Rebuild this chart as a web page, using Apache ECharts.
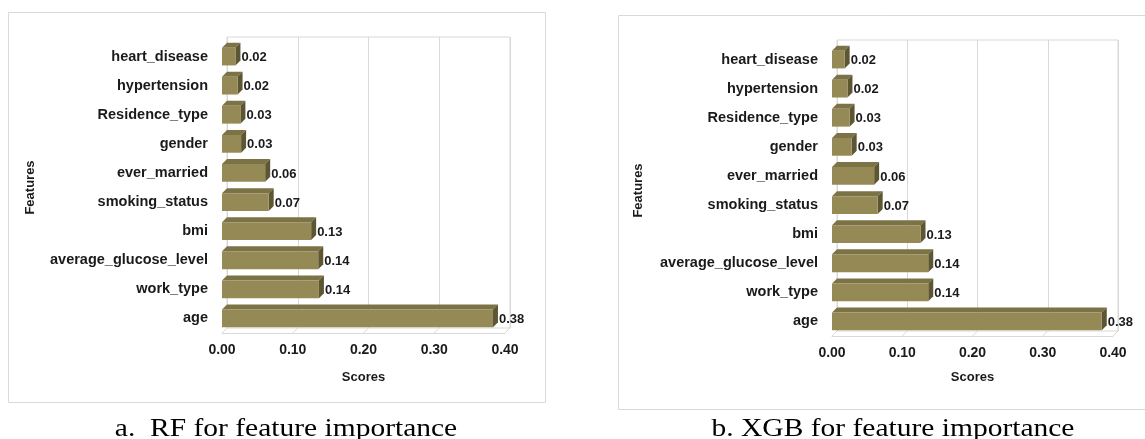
<!DOCTYPE html>
<html><head><meta charset="utf-8">
<script src="https://cdn.jsdelivr.net/npm/echarts@6/dist/echarts.min.js"></script>
<style>html,body{margin:0;padding:0;background:#fff}#c{width:1145px;height:439px}</style>
</head><body><div id="c"></div>
<script>
const features = ['heart_disease','hypertension','Residence_type','gender','ever_married','smoking_status','bmi','average_glucose_level','work_type','age'];
const rfScores = [0.019,0.022,0.026,0.027,0.061,0.066,0.126,0.136,0.137,0.383];
const xgbScores = [0.018,0.022,0.025,0.028,0.060,0.065,0.126,0.137,0.137,0.384];
const xTicks = [0, 0.1, 0.2, 0.3, 0.4];
const captions = ['a.  RF for feature importance', 'b. XGB for feature importance'];
const axisTitleX = 'Scores', axisTitleY = 'Features';

const FONT = '"Liberation Sans", Arial, sans-serif';
const D = 5; // 3D depth in px
const C_FRONT = '#958a55', C_TOP = '#7b7246', C_SIDE = '#5d5633', GRIDC = '#d9d9d9';

function barItem(params, api) {
  const val = api.value(0), idx = api.value(1);
  const s = api.coord([0, idx]), e = api.coord([val, idx]);
  const bw = api.size([0, 1])[1] * 0.61;
  const x0 = s[0], x1 = e[0], yc = s[1], yt = yc - bw / 2, yb = yc + bw / 2;
  return { type: 'group', children: [
    { type: 'polygon', shape: { points: [[x0, yt], [x0 + D, yt - D], [x1 + D, yt - D], [x1, yt]] }, style: { fill: C_TOP } },
    { type: 'polygon', shape: { points: [[x1, yt], [x1 + D, yt - D], [x1 + D, yb - D], [x1, yb]] }, style: { fill: C_SIDE } },
    { type: 'rect', shape: { x: x0, y: yt, width: x1 - x0, height: bw }, style: { fill: C_FRONT } },
    { type: 'text', style: { text: val.toFixed(2), x: x1 + D + 1, y: yc + 1, verticalAlign: 'middle', align: 'left', font: 'bold 13px ' + FONT, fill: '#1a1a1a' } }
  ]};
}
function floorItem(params, api) {
  const v = api.value(0);
  const cs = params.coordSys;
  const bottom = cs.y + cs.height;
  const p = api.coord([v, 0]);
  return { type: 'line', shape: { x1: p[0], y1: bottom, x2: p[0] + D, y2: bottom - D }, style: { stroke: GRIDC, lineWidth: 1 } };
}

const panels = [
  { left: 222, top: 42, width: 283, height: 291, scores: rfScores, nameGap: 38, featX: 30, box: [8, 12, 537, 390], cap: [286, 429] },
  { left: 832, top: 45, width: 281, height: 291, scores: xgbScores, nameGap: 35, featX: 638, box: [618, 15, 540, 394], cap: [893, 429] }
];

const grid = [], xAxis = [], yAxis = [], series = [], graphic = [];
panels.forEach((p, k) => {
  const g = grid.length;
  // back wall
  grid.push({ left: p.left + D, top: p.top - D, width: p.width, height: p.height, show: true, borderColor: GRIDC, borderWidth: 1, backgroundColor: 'transparent' });
  xAxis.push({ gridIndex: g, type: 'value', min: 0, max: 0.4, interval: 0.1, axisLine: { show: false }, axisTick: { show: false }, axisLabel: { show: false }, splitLine: { lineStyle: { color: GRIDC } } });
  yAxis.push({ gridIndex: g, type: 'category', data: features, inverse: true, show: false });
  // front
  grid.push({ left: p.left, top: p.top, width: p.width, height: p.height });
  xAxis.push({ gridIndex: g + 1, type: 'value', min: 0, max: 0.4, interval: 0.1,
    axisLine: { show: true, lineStyle: { color: GRIDC } }, axisTick: { show: false }, splitLine: { show: false },
    axisLabel: { margin: 10, fontFamily: FONT, fontWeight: 'bold', fontSize: 14, color: '#1a1a1a', formatter: v => v.toFixed(2) },
    name: axisTitleX, nameLocation: 'middle', nameGap: p.nameGap, nameTextStyle: { fontFamily: FONT, fontWeight: 'bold', fontSize: 13, color: '#1a1a1a' } });
  yAxis.push({ gridIndex: g + 1, type: 'category', data: features, inverse: true,
    axisLine: { show: false }, axisTick: { show: false },
    axisLabel: { margin: 14, fontFamily: FONT, fontWeight: 'bold', fontSize: 14.5, color: '#1a1a1a' },
    name: axisTitleY, nameLocation: 'middle', nameRotate: 90, nameGap: p.left - p.featX - 7,
    nameTextStyle: { fontFamily: FONT, fontWeight: 'bold', fontSize: 13, color: '#1a1a1a' } });
  series.push({ type: 'custom', xAxisIndex: g + 1, yAxisIndex: g + 1, data: xTicks.map(v => [v]), encode: { x: 0 }, renderItem: floorItem, silent: true, z: 1 });
  series.push({ type: 'custom', xAxisIndex: g + 1, yAxisIndex: g + 1, data: p.scores.map((v, i) => [v, i]), encode: { x: 0, y: 1 }, renderItem: barItem, z: 2 });
  graphic.push({ type: 'rect', shape: { x: p.box[0] + 0.5, y: p.box[1] + 0.5, width: p.box[2], height: p.box[3] }, style: { fill: 'none', stroke: GRIDC, lineWidth: 1 }, z: -10 });
  graphic.push({ type: 'text', x: p.cap[0], y: p.cap[1], scaleX: 1.18, style: { text: captions[k], font: '25px "Liberation Serif", "Times New Roman", serif', fill: '#000', align: 'center', verticalAlign: 'middle' } });
});

const chart = echarts.init(document.getElementById('c'), null, { renderer: 'canvas' });
chart.setOption({ animation: false, backgroundColor: '#fff', grid, xAxis, yAxis, series, graphic });
</script></body></html>
